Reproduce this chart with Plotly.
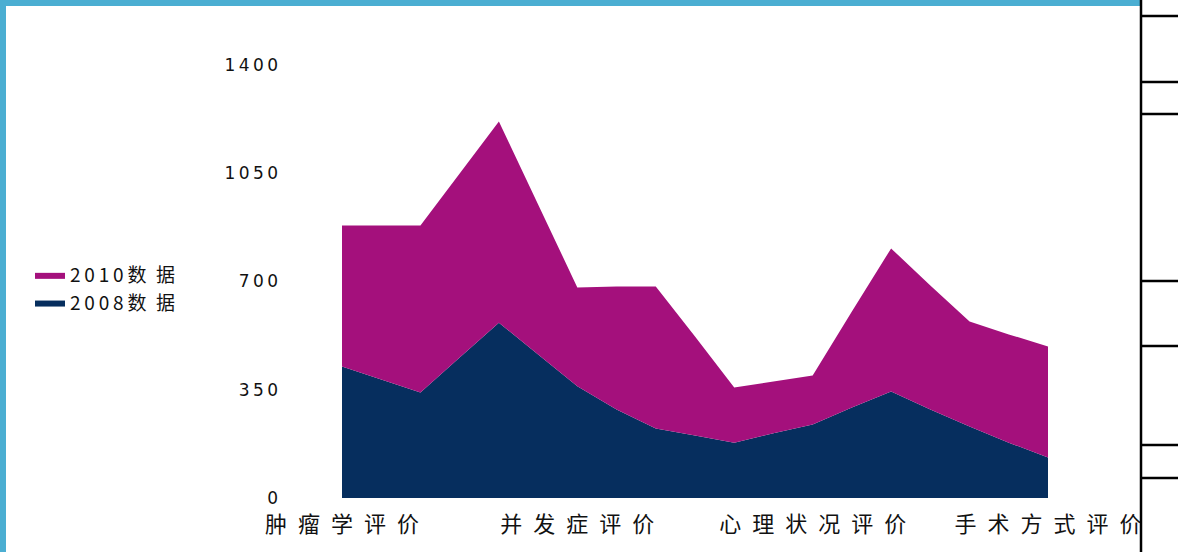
import plotly.graph_objects as go

# ---- data ----
x_idx = list(range(19))
tick_positions = [0, 6, 12, 18]
tick_labels = ["肿瘤学评价", "并发症评价", "心理状况评价", "手术方式评价"]
series_2008 = [425, 382, 341, 454, 567, 464, 361, 286, 225, 202, 179, 209, 238, 293, 344, 286, 231, 179, 131]
series_2010 = [456, 499, 540, 595, 650, 485, 320, 398, 459, 320, 178, 168, 158, 310, 463, 401, 340, 350, 359]
y_ticks = [0, 350, 700, 1050, 1400]
name_2008 = "2008数据"
name_2010 = "2010数据"

# ---- styling ----
W, H = 1178, 552
ML, MR, MT, MB = 342, 130, 65, 54
PW, PH = W - ML - MR, H - MT - MB
NAVY = "#062E5E"
MAGENTA = "#A4107C"
FRAME_BLUE = "#4BAED2"
FONT = "Noto Sans CJK SC"


def spaced(s, sep):
    return sep.join(list(s))


def px(X):
    return (X - ML) / PW


def py(Y):
    return (H - MB - Y) / PH


def legend_name(n):
    digits = n[:4]
    rest = n[4:]
    return spaced(digits, "\u2009") + "\u2009" + spaced(rest, "\u2002")


fig = go.Figure()
fig.add_trace(go.Scatter(
    x=x_idx, y=series_2008, name=legend_name(name_2008), stackgroup="one",
    mode="lines", line=dict(width=0, color=NAVY), fillcolor=NAVY,
))
fig.add_trace(go.Scatter(
    x=x_idx, y=series_2010, name=legend_name(name_2010), stackgroup="one",
    mode="lines", line=dict(width=0, color=MAGENTA), fillcolor=MAGENTA,
))

shapes = []
# top blue band
shapes.append(dict(type="rect", xref="paper", yref="paper",
                   x0=px(0), x1=px(1140), y0=py(6), y1=py(0),
                   fillcolor=FRAME_BLUE, line=dict(width=0), layer="above"))
# left blue band
shapes.append(dict(type="rect", xref="paper", yref="paper",
                   x0=px(0), x1=px(6), y0=py(H), y1=py(0),
                   fillcolor=FRAME_BLUE, line=dict(width=0), layer="above"))
# right vertical black line
shapes.append(dict(type="line", xref="paper", yref="paper",
                   x0=px(1141), x1=px(1141), y0=py(H), y1=py(0),
                   line=dict(color="black", width=2.5)))
for Y in [16, 82, 114, 281, 346, 445, 478]:
    shapes.append(dict(type="line", xref="paper", yref="paper",
                       x0=px(1141), x1=px(W), y0=py(Y), y1=py(Y),
                       line=dict(color="black", width=2.5)))

fig.update_layout(
    width=W, height=H,
    margin=dict(l=ML, r=MR, t=MT, b=MB),
    paper_bgcolor="white", plot_bgcolor="white",
    font=dict(family=FONT, color="#111111"),
    showlegend=True,
    legend=dict(
        x=px(30), y=py(256), xanchor="left", yanchor="top",
        traceorder="reversed", font=dict(size=19, family=FONT, color="#111111"),
        bgcolor="rgba(0,0,0,0)", itemwidth=30, tracegroupgap=0,
    ),
    xaxis=dict(
        range=[0, 18], showgrid=False, zeroline=False, showline=False,
        tickmode="array", tickvals=tick_positions,
        ticktext=[spaced(t, "\u2002") for t in tick_labels],
        tickfont=dict(size=22, family=FONT, color="#111111"),
        ticks="", ticklabelstandoff=11,
    ),
    yaxis=dict(
        range=[0, 1400], showgrid=False, zeroline=False, showline=False,
        tickmode="array", tickvals=y_ticks,
        ticktext=[spaced(str(v), "\u2009") for v in y_ticks],
        tickfont=dict(size=17, family="DejaVu Sans", color="#111111"),
        ticks="", ticklabelstandoff=63,
    ),
    shapes=shapes,
)

fig.write_html("out.html")
